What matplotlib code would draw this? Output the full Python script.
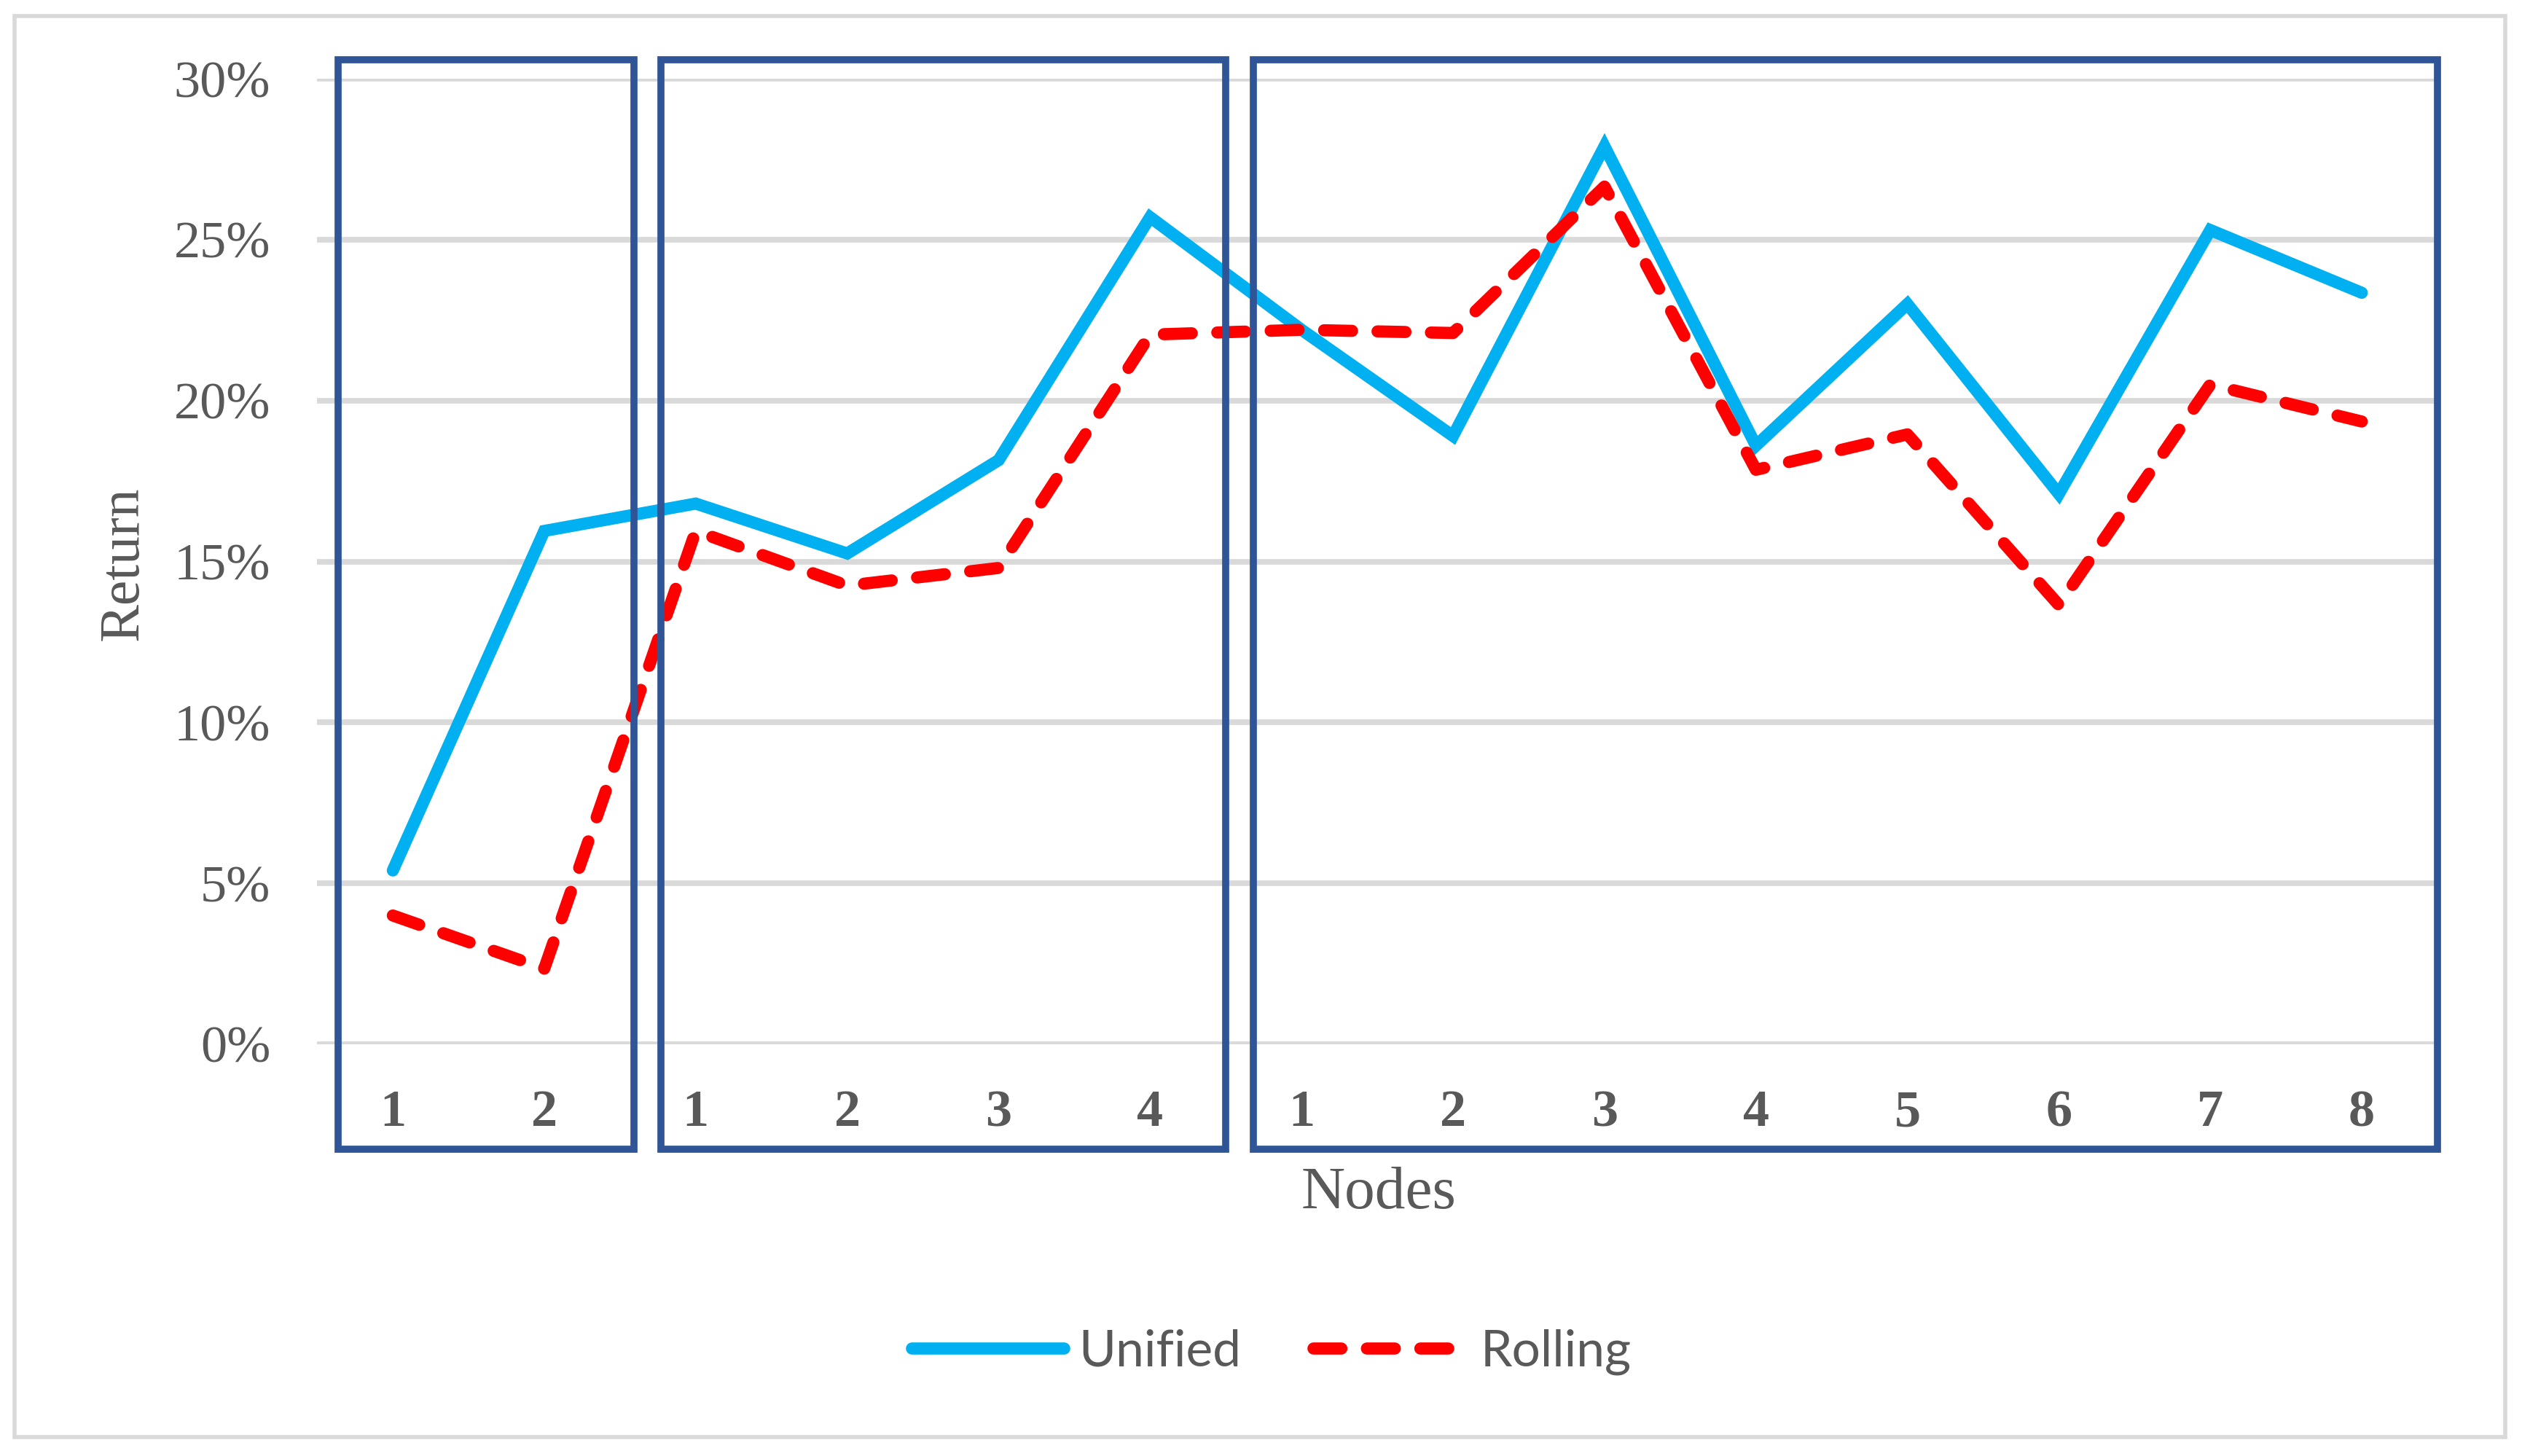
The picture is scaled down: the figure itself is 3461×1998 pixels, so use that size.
import matplotlib
matplotlib.use("Agg")
import matplotlib.pyplot as plt
from matplotlib.patches import Rectangle
from matplotlib.ticker import FuncFormatter

# Daten
node_labels = ["1", "2", "1", "2", "3", "4", "1", "2", "3", "4", "5", "6", "7", "8"]
unified = [0.054, 0.1595, 0.168, 0.1525, 0.1815, 0.257, 0.222, 0.189, 0.279, 0.186, 0.230, 0.171, 0.253, 0.2335]
rolling = [0.040, 0.0235, 0.1595, 0.1425, 0.148, 0.2205, 0.222, 0.221, 0.2665, 0.1785, 0.1895, 0.1365, 0.205, 0.1935]

text_col = "#595959"
serif = "Liberation Serif"

fig = plt.figure(figsize=(34.62, 19.98), dpi=100)
ax = fig.add_axes([0.1257, 0.2828, 0.9662 - 0.1257, 0.9459 - 0.2828])

x = list(range(len(node_labels)))
ax.plot(x, unified, color="#00B0F0", lw=12, solid_capstyle="round",
        solid_joinstyle="miter", label="Unified", zorder=3)
ax.plot(x, rolling, color="#FF0000", lw=12, dashes=(2.3, 2.1),
        dash_capstyle="round", label="Rolling", zorder=3)

ax.set_xlim(-0.5, len(node_labels) - 0.5)
ax.set_ylim(0, 0.30)
ax.set_yticks([0, 0.05, 0.10, 0.15, 0.20, 0.25, 0.30])
ax.yaxis.set_major_formatter(FuncFormatter(lambda v, p: f"{v*100:.0f}%"))
ax.set_xticks(x)
ax.set_xticklabels(node_labels)
ax.grid(axis="y", color="#D9D9D9", lw=5.5, zorder=0)
ax.set_axisbelow(True)
for s in ax.spines.values():
    s.set_visible(False)
ax.tick_params(axis="x", length=0, pad=45, labelsize=52, labelcolor=text_col)
ax.tick_params(axis="y", length=0, pad=46, labelsize=52, labelcolor=text_col)
for t in ax.get_xticklabels():
    t.set_fontfamily(serif)
    t.set_fontweight("bold")
for t in ax.get_yticklabels():
    t.set_fontfamily(serif)

# Rahmen um die Knotengruppen
box_edges = [(-0.36, 1.59), (1.77, 5.50), (5.68, 13.5)]
for x0, x1 in box_edges:
    ax.add_patch(Rectangle((x0, -0.0326), x1 - x0, 0.3059 + 0.0326,
                           fill=False, ec="#2F5597", lw=7, clip_on=False,
                           zorder=4, transform=ax.transData))

fig.text(0.049, 1 - 773 / 1998, "Return", rotation=90, ha="center", va="center",
         fontsize=56, color=text_col, fontfamily=serif)
fig.text(1892 / 3462, 1 - 1638 / 1998, "Nodes", ha="center", va="center",
         fontsize=60, color=text_col, fontfamily=serif)

leg = fig.legend(loc="center", bbox_to_anchor=(0.504, 1 - 1855 / 1998), ncol=2,
                 frameon=False, handlelength=3.0, handletextpad=0.3,
                 columnspacing=1.42, labelcolor=text_col,
                 prop={"family": "Lato", "size": 50})

# äußerer Rahmen
fig.patches.append(Rectangle((20 / 3462, 26 / 1998), 1 - 44 / 3462, 1 - 48 / 1998,
                             transform=fig.transFigure, fill=False,
                             ec="#D9D9D9", lw=4))

fig.savefig("out.png", dpi=100)
